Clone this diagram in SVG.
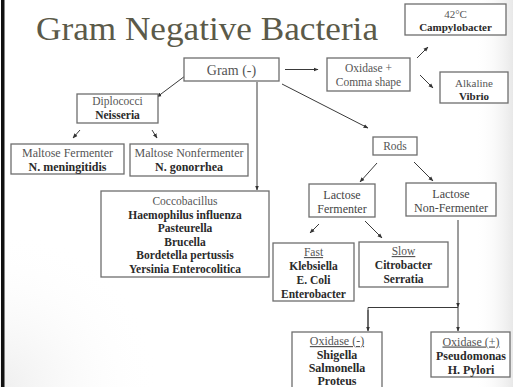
<svg xmlns="http://www.w3.org/2000/svg" width="513" height="387" viewBox="0 0 513 387">
  <defs>
    <linearGradient id="edgeShade" x1="0" y1="0" x2="1" y2="0">
      <stop offset="0" stop-color="#ffffff" stop-opacity="0"/>
      <stop offset="1" stop-color="#d9d9d9" stop-opacity="1"/>
    </linearGradient>
    <radialGradient id="cornerShade" cx="0" cy="1" r="1">
      <stop offset="0" stop-color="#e4e4e4"/>
      <stop offset="1" stop-color="#ffffff" stop-opacity="0"/>
    </radialGradient>
    <marker id="arr" viewBox="0 0 10 10" refX="9" refY="5" markerWidth="5" markerHeight="5" orient="auto-start-reverse" markerUnits="userSpaceOnUse">
      <path d="M0,1 L10,5 L0,9 z" fill="#333"/>
    </marker>
    <style>
      .box { fill: #ffffff; stroke: #6e6e6e; stroke-width: 1.3; }
      .t { font-family: "Liberation Serif", "Times New Roman", serif; font-size: 11.5px; fill: #555; text-anchor: middle; }
      .b { font-family: "Liberation Serif", "Times New Roman", serif; font-size: 11.5px; font-weight: bold; fill: #2a2a2a; text-anchor: middle; }
      .u { text-decoration: underline; }
      .title { font-family: "Liberation Serif", "Times New Roman", serif; font-size: 34px; fill: #5b5a49; }
      .c line, .c polyline { stroke: #3a3a3a; stroke-width: 1; fill: none; }
    </style>
  </defs>

  <!-- slide background -->
  <rect x="0" y="0" width="513" height="387" fill="#ffffff"/>
  <rect x="0" y="230" width="160" height="157" fill="url(#cornerShade)" opacity="0.6"/>
  <rect x="475" y="0" width="38" height="387" fill="url(#edgeShade)" opacity="0.6"/>
  <rect x="1" y="0" width="3.5" height="387" fill="#111"/>

  <text class="title" x="36" y="40" textLength="342" lengthAdjust="spacingAndGlyphs">Gram Negative Bacteria</text>

  <!-- connectors -->
  <g class="c" id="connectors">
    <line x1="285" y1="69.5" x2="318" y2="69.5" marker-end="url(#arr)"/>
    <line x1="417" y1="58" x2="428" y2="47" marker-end="url(#arr)"/>
    <line x1="420" y1="75" x2="433" y2="88" marker-end="url(#arr)"/>
    <line x1="282" y1="84" x2="368" y2="128" marker-end="url(#arr)"/>
    <line x1="185" y1="76" x2="157" y2="97" marker-end="url(#arr)"/>
    <line x1="80" y1="130" x2="73" y2="138" marker-end="url(#arr)"/>
    <line x1="152" y1="130" x2="157" y2="138" marker-end="url(#arr)"/>
    <line x1="257" y1="82" x2="257" y2="190" marker-end="url(#arr)"/>
    <line x1="377" y1="163" x2="360" y2="182" marker-end="url(#arr)"/>
    <line x1="414" y1="162" x2="433" y2="181" marker-end="url(#arr)"/>
    <line x1="319" y1="224" x2="310" y2="233" marker-end="url(#arr)"/>
    <line x1="365" y1="221" x2="382" y2="238" marker-end="url(#arr)"/>
    <line x1="458" y1="220" x2="458" y2="307" marker-end="url(#arr)"/>
    <polyline points="368,330 368,307.5 458,307.5"/>
    <line x1="368" y1="310" x2="368" y2="331" marker-end="url(#arr)"/>
    <line x1="458" y1="307" x2="458" y2="331" marker-end="url(#arr)"/>
  </g>

  <g id="gram">
    <rect class="box" x="184" y="58" width="95" height="23"/>
    <text class="t" x="231.5" y="74.5" style="font-size:14px">Gram (-)</text>
  </g>

  <g id="oxidase-comma">
    <rect class="box" x="327" y="58" width="83" height="33"/>
    <text class="t" x="368.5" y="72">Oxidase +</text>
    <text class="t" x="368.5" y="86">Comma shape</text>
  </g>

  <g id="campylobacter">
    <rect class="box" x="405" y="4" width="101" height="31"/>
    <text class="t" x="455.5" y="18" style="font-size:11px">42°C</text>
    <text class="b" x="455.5" y="31" style="font-size:11px">Campylobacter</text>
  </g>

  <g id="vibrio">
    <rect class="box" x="440" y="72" width="68" height="31"/>
    <text class="t" x="474" y="87" style="font-size:11px">Alkaline</text>
    <text class="b" x="474" y="100" style="font-size:11px">Vibrio</text>
  </g>

  <g id="diplococci">
    <rect class="box" x="77" y="94" width="81" height="29"/>
    <text class="t" x="117.5" y="105">Diplococci</text>
    <text class="b" x="117.5" y="118.5">Neisseria</text>
  </g>

  <g id="maltose-fermenter">
    <rect class="box" x="11" y="144" width="113" height="30"/>
    <text class="t" x="67.5" y="157" style="font-size:12px">Maltose Fermenter</text>
    <text class="b" x="67.5" y="170.5" style="font-size:12px">N. meningitidis</text>
  </g>

  <g id="maltose-nonfermenter">
    <rect class="box" x="130" y="144" width="118" height="32"/>
    <text class="t" x="189" y="157" style="font-size:12px">Maltose Nonfermenter</text>
    <text class="b" x="189" y="170.5" style="font-size:12px">N. gonorrhea</text>
  </g>

  <g id="coccobacillus">
    <rect class="box" x="101" y="191" width="168" height="86"/>
    <text class="t" x="185" y="205">Coccobacillus</text>
    <text class="b" x="185" y="218.5">Haemophilus influenza</text>
    <text class="b" x="185" y="232">Pasteurella</text>
    <text class="b" x="185" y="245.5">Brucella</text>
    <text class="b" x="185" y="259">Bordetella pertussis</text>
    <text class="b" x="185" y="272.5">Yersinia Enterocolitica</text>
  </g>

  <g id="rods">
    <rect class="box" x="373" y="137" width="44" height="18"/>
    <text class="t" x="395" y="150">Rods</text>
  </g>

  <g id="lactose-fermenter">
    <rect class="box" x="309" y="184" width="66" height="33"/>
    <text class="t" x="342" y="198.5" style="font-size:12px;fill:#444">Lactose</text>
    <text class="t" x="342" y="212.5" style="font-size:12px;fill:#444">Fermenter</text>
  </g>

  <g id="lactose-nonfermenter">
    <rect class="box" x="406" y="183" width="90" height="33"/>
    <text class="t" x="451" y="197.5" style="font-size:12px;fill:#444">Lactose</text>
    <text class="t" x="451" y="211.5" style="font-size:12px;fill:#444">Non-Fermenter</text>
  </g>

  <g id="fast">
    <rect class="box" x="273" y="243" width="81" height="58"/>
    <text class="t u" x="313.5" y="256">Fast</text>
    <text class="b" x="313.5" y="270">Klebsiella</text>
    <text class="b" x="313.5" y="284">E. Coli</text>
    <text class="b" x="313.5" y="297.5">Enterobacter</text>
  </g>

  <g id="slow">
    <rect class="box" x="359" y="242" width="89" height="45"/>
    <text class="t u" x="403.5" y="255">Slow</text>
    <text class="b" x="403.5" y="269">Citrobacter</text>
    <text class="b" x="403.5" y="283">Serratia</text>
  </g>

  <g id="oxidase-negative">
    <rect class="box" x="292" y="332" width="90" height="62"/>
    <text class="t u" x="337" y="345" style="font-size:12px">Oxidase (-)</text>
    <text class="b" x="337" y="358.5" style="font-size:12px">Shigella</text>
    <text class="b" x="337" y="371.5" style="font-size:12px">Salmonella</text>
    <text class="b" x="337" y="384.5" style="font-size:12px">Proteus</text>
  </g>

  <g id="oxidase-positive">
    <rect class="box" x="431" y="332" width="79" height="45"/>
    <text class="t u" x="471" y="345.5" style="font-size:12px">Oxidase (+)</text>
    <text class="b" x="471" y="359.5" style="font-size:12px">Pseudomonas</text>
    <text class="b" x="471" y="373.5" style="font-size:12px">H. Pylori</text>
  </g>
</svg>
